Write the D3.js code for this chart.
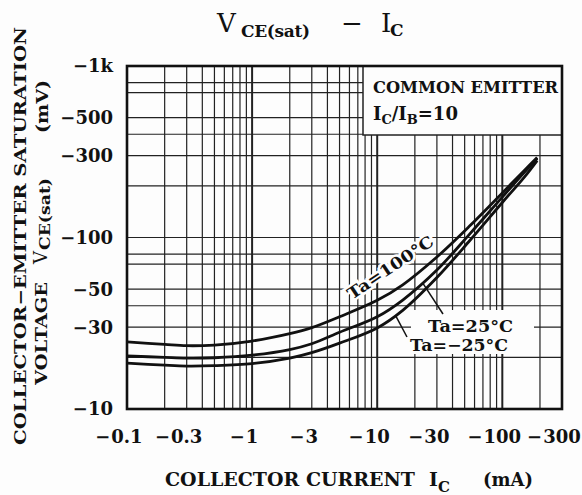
<!DOCTYPE html>
<meta charset="utf-8">
<style>
body { margin: 0; background: #fff; }
svg { font-family: "DejaVu Serif", serif; fill: #111; }
.grid line { stroke: #222; stroke-width: 1.2; }
.curve { fill: none; stroke: #111; stroke-width: 2.8; }
</style>
<svg width="582" height="495"></svg>
<script src="https://d3js.org/d3.v7.min.js"></script>
<script>

// collector current (mA, magnitude) and VCE(sat) (mV, magnitude)
var current = [0.1, 0.2, 0.3, 0.5, 1, 2, 3, 5, 10, 16, 30, 55, 100, 150, 190];
var vce100  = [24.6, 23.8, 23.4, 23.6, 24.9, 27.5, 29.8, 34.5, 43, 53, 77, 117, 182, 246, 293];
var vce25   = [20.4, 20.0, 19.8, 19.9, 20.6, 22.2, 24.0, 28.0, 34.5, 43.2, 64.6, 105, 172, 240, 289];
var vceM25  = [18.5, 18.0, 17.8, 17.9, 18.4, 19.8, 21.3, 24.2, 29.7, 37.6, 58.4, 96, 160, 225, 281];

var xTicks = [0.1, 0.3, 1, 3, 10, 30, 100, 300];
var xTickText = ["0.1", "0.3", "1", "3", "10", "30", "100", "300"];
var yTicks = [10, 30, 50, 100, 300, 500, 1000];
var yTickText = ["−10", "−30", "−50", "−100", "−300", "−500", "−1k"];
var yMinor = [2, 3, 4, 5, 7, 8];

var svg = d3.select("svg");

var x = d3.scaleLog().domain([0.1, 300]).range([127, 562]);
var y = d3.scaleLog().domain([10, 1000]).range([409, 66]);

// value of a series at current c (log-log interpolation)
function at(s, c) {
  var i = d3.bisectLeft(current, c);
  if (i <= 0) return s[0];
  var t = Math.log(c / current[i - 1]) / Math.log(current[i] / current[i - 1]);
  return s[i - 1] * Math.pow(s[i] / s[i - 1], t);
}

svg.append("rect").attr("width", 582).attr("height", 495).attr("fill", "#fdfdfd");

// grid
var grid = svg.append("g").attr("class", "grid");
var xLines = [];
[0.1, 1, 10, 100].forEach(function(d) {
  for (var k = 1; k <= 9; k++) { var v = d * k; if (v > 0.1 && v < 300) xLines.push(v); }
});
grid.selectAll(".vx").data(xLines).enter().append("line")
    .attr("x1", d => x(d)).attr("x2", d => x(d))
    .attr("y1", y(10)).attr("y2", y(1000))
    .style("stroke-width", d => [1, 10, 100].indexOf(d) >= 0 ? 2 : 1.2);
var yLines = [];
[10, 100].forEach(function(d) {
  yMinor.forEach(function(k) { yLines.push(d * k); });
  if (d > 10) yLines.push(d);
});
grid.selectAll(".hy").data(yLines).enter().append("line")
    .attr("y1", d => y(d)).attr("y2", d => y(d))
    .attr("x1", x(0.1)).attr("x2", x(300));

// legend box
svg.append("rect").attr("x", 363).attr("y", y(1000)).attr("width", x(300) - 363).attr("height", 135 - y(1000))
    .attr("fill", "#fdfdfd").attr("stroke", "#222").attr("stroke-width", 1.5);
svg.append("text").attr("x", 373).attr("y", 93).attr("font-size", 17).attr("font-weight", "bold")
    .attr("textLength", 185).attr("lengthAdjust", "spacingAndGlyphs").text("COMMON  EMITTER");
var ib = svg.append("text").attr("x", 373).attr("y", 120).attr("font-size", 18).attr("font-weight", "bold");
ib.append("tspan").text("I");
ib.append("tspan").attr("font-size", 13).attr("dy", 4).text("C");
ib.append("tspan").attr("dy", -4).text("/I");
ib.append("tspan").attr("font-size", 13).attr("dy", 4).text("B");
ib.append("tspan").attr("dy", -4).text("=10");

// curves
var line = d3.line().x(d => x(d[0])).y(d => y(d[1])).curve(d3.curveCatmullRom.alpha(0.5));
[vce100, vce25, vceM25].forEach(function(s) {
  svg.append("path").attr("class", "curve").attr("d", line(current.map((c, i) => [c, s[i]])));
});

// curve labels
svg.append("rect").attr("x", 411).attr("y", 310).attr("width", 123).attr("height", 44).attr("fill", "#fdfdfd");
svg.append("text").attr("transform", "translate(352,300) rotate(-34)")
    .attr("font-size", 16).attr("font-weight", "bold")
    .attr("stroke", "#fdfdfd").attr("stroke-width", 5).attr("paint-order", "stroke")
    .attr("textLength", 100).attr("lengthAdjust", "spacingAndGlyphs").text("Ta=100°C");
svg.append("text").attr("x", 428).attr("y", 332).attr("font-size", 16).attr("font-weight", "bold")
    .attr("textLength", 85).attr("lengthAdjust", "spacingAndGlyphs").text("Ta=25°C");
svg.append("text").attr("x", 410).attr("y", 351).attr("font-size", 16).attr("font-weight", "bold")
    .attr("textLength", 98).attr("lengthAdjust", "spacingAndGlyphs").text("Ta=−25°C");
svg.append("line").attr("x1", 443).attr("y1", 314).attr("x2", x(23)).attr("y2", y(at(vce25, 23)))
    .attr("stroke", "#111").attr("stroke-width", 1.5);
svg.append("line").attr("x1", 407).attr("y1", 337).attr("x2", x(14)).attr("y2", y(at(vceM25, 14)))
    .attr("stroke", "#111").attr("stroke-width", 1.5);

// frame
svg.append("rect").attr("x", x(0.1)).attr("y", y(1000)).attr("width", x(300) - x(0.1)).attr("height", y(10) - y(1000))
    .attr("fill", "none").attr("stroke", "#111").attr("stroke-width", 2.6);

// x tick labels: digits centred on the tick, minus sign hangs left
xTicks.forEach(function(d, i) {
  var t = svg.append("text").attr("x", x(d)).attr("y", 443).attr("font-size", 18).attr("font-weight", "bold")
      .attr("text-anchor", "middle").text(xTickText[i]);
  var w = t.node().getComputedTextLength();
  svg.append("text").attr("x", x(d) - w / 2 - 1).attr("y", 443).attr("font-size", 18).attr("font-weight", "bold")
      .attr("text-anchor", "end").text("−");
});
// y tick labels
yTicks.forEach(function(d, i) {
  svg.append("text").attr("x", 113).attr("y", y(d)).attr("dy", "0.36em").attr("font-size", 18).attr("font-weight", "bold")
      .attr("text-anchor", "end").text(yTickText[i]);
});

// title
svg.append("text").attr("x", 217).attr("y", 32).attr("font-size", 26).text("V");
svg.append("text").attr("x", 241).attr("y", 37).attr("font-size", 17).attr("font-weight", "bold")
    .attr("textLength", 69).text("CE(sat)");
svg.append("text").attr("x", 341).attr("y", 32).attr("font-size", 26).text("−");
svg.append("text").attr("x", 381).attr("y", 32).attr("font-size", 26).text("I");
svg.append("text").attr("x", 390).attr("y", 36).attr("font-size", 17).attr("font-weight", "bold").text("C");

// x axis title
svg.append("text").attr("x", 165).attr("y", 486).attr("font-size", 18).attr("font-weight", "bold")
    .attr("textLength", 250).attr("lengthAdjust", "spacingAndGlyphs").text("COLLECTOR  CURRENT");
svg.append("text").attr("x", 429).attr("y", 486).attr("font-size", 19).attr("font-weight", "bold").text("I");
svg.append("text").attr("x", 438).attr("y", 492).attr("font-size", 15).attr("font-weight", "bold").text("C");
svg.append("text").attr("x", 483).attr("y", 486).attr("font-size", 18).attr("font-weight", "bold")
    .attr("textLength", 50).attr("lengthAdjust", "spacingAndGlyphs").text("(mA)");

// y axis title
svg.append("text").attr("transform", "translate(26,445) rotate(-90)").attr("font-size", 16).attr("font-weight", "bold")
    .attr("textLength", 418).attr("lengthAdjust", "spacingAndGlyphs").text("COLLECTOR−EMITTER  SATURATION");
svg.append("text").attr("transform", "translate(47,385) rotate(-90)").attr("font-size", 16).attr("font-weight", "bold")
    .attr("textLength", 103).attr("lengthAdjust", "spacingAndGlyphs").text("VOLTAGE");
svg.append("text").attr("transform", "translate(47,264) rotate(-90)").attr("font-size", 18).text("V");
svg.append("text").attr("transform", "translate(50,250) rotate(-90)").attr("font-size", 14).attr("font-weight", "bold")
    .attr("textLength", 72).attr("lengthAdjust", "spacingAndGlyphs").text("CE(sat)");
svg.append("text").attr("transform", "translate(48,133) rotate(-90)").attr("font-size", 16).attr("font-weight", "bold")
    .attr("textLength", 53).attr("lengthAdjust", "spacingAndGlyphs").text("(mV)");

</script>
